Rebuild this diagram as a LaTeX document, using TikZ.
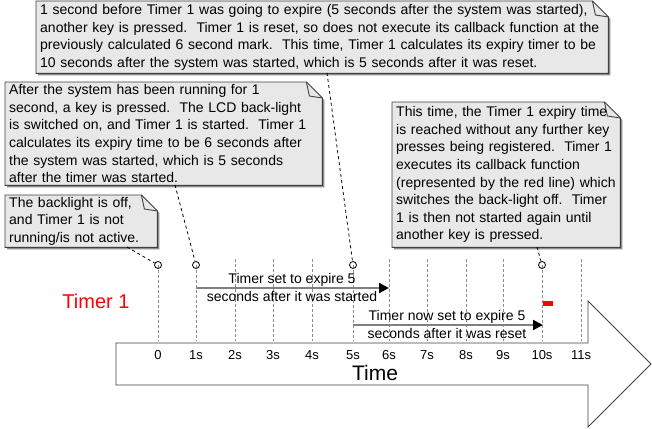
\documentclass[tikz,border=0pt]{standalone}
\usepackage{fontspec}
\setmainfont{Liberation Sans}
\usetikzlibrary{arrows.meta,backgrounds}

\definecolor{notefill}{HTML}{E8E8E8}
\definecolor{noteline}{HTML}{404040}
\definecolor{noteshadow}{HTML}{8C8C8C}
\definecolor{tickgray}{HTML}{8C8C8C}

\begin{document}
\begin{tikzpicture}[
  x=1pt, y=-1pt,
  font=\fontsize{14}{17.6}\selectfont,
  note/.style 2 args={
    anchor=north west,
    inner xsep=4pt,
    inner ysep=1pt,
    text width=#1,
    minimum height=#2,
    align=left
  },
  notebox/.style={
    fill=notefill,
    draw=noteline,
    line width=0.9pt,
    preaction={fill=noteshadow, transform canvas={shift={(2pt,-2pt)}}}
  },
  keymark/.style={circle, draw=black, minimum size=7pt, inner sep=0pt, line width=0.8pt},
  pointer/.style={draw=black, dashed, line width=0.8pt},
  tickline/.style={draw=tickgray, dash pattern=on 3pt off 2pt, line width=0.7pt},
  timerflow/.style={-{Triangle[length=10pt,width=10pt,black]}, draw=gray, line width=2pt},
  ticklabel/.style={font=\fontsize{13}{15}\selectfont},
  flowlabel/.style={align=center, font=\fontsize{14}{18}\selectfont}
]
\useasboundingbox (0,0) rectangle (652,428);

% the time axis
\draw[draw=noteline, fill=white, line width=0.9pt]
  (116,343) -- (588,343) -- (588,301) -- (651,364) -- (588,427) -- (588,385) -- (116,385) -- cycle;
\node[font=\fontsize{21}{24}\selectfont] (timeLabel) at (375,373) {Time};

\foreach \x/\lab/\top in {158/0/265,196/1s/265,235/2s/259,273/3s/259,312/4s/259,353/5s/265,
                          389/6s/259,427/7s/259,466/8s/259,503/9s/259,542/10s/265,581/11s/259} {
  \draw[tickline] (\x,\top) -- (\x,341);
  \node[ticklabel] (tick\lab) at (\x,355) {\lab};
}

\node[text=red, font=\fontsize{20}{24}\selectfont] (timerName) at (96,301) {Timer 1};

% key presses
\node[keymark] (c0) at (158,265) {};
\node[keymark] (c1) at (196,265) {};
\node[keymark] (c5) at (353,265) {};
\node[keymark] (c10) at (542,265) {};

% timer periods
\coordinate (setStart) at (196,288);
\coordinate (setEnd) at (389,288);
\coordinate (resetStart) at (353,325);
\coordinate (resetEnd) at (543,325);
\draw[timerflow] (setStart) -- (setEnd);
\draw[timerflow] (resetStart) -- (resetEnd);
\node[flowlabel] (setLabel) at (292,287) {Timer set to expire 5\\seconds after it was started};
\node[flowlabel] (resetLabel) at (447,324) {Timer now set to expire 5\\seconds after it was reset};

\node[fill=red, anchor=north west, minimum width=10pt, minimum height=5pt, inner sep=0pt] (callback) at (543,301) {};

% notes
\node[note={144pt}{52pt}] (backlightNote) at (5,195)
  {The backlight is off,\\and Timer 1 is not\\running/is not active.};
\node[note={309pt}{103pt}] (startNote) at (5,82)
  {After the system has been running for 1\\second, a key is pressed.\ \ The LCD back-light\\is switched on, and Timer 1 is started.\ \ Timer 1\\calculates its expiry time to be 6 seconds after\\the system was started, which is 5 seconds\\after the timer was started.};
\node[note={564pt}{72pt}] (resetNote) at (36,1)
  {1 second before Timer 1 was going to expire (5 seconds after the system was started),\\another key is pressed.\ \ Timer 1 is reset, so does not execute its callback function at the\\previously calculated 6 second mark.\ \ This time, Timer 1 calculates its expiry timer to be\\10 seconds after the system was started, which is 5 seconds after it was reset.};
\node[note={220pt}{145pt}] (expireNote) at (392,102)
  {This time, the Timer 1 expiry time\\is reached without any further key\\presses being registered.\ \ Timer 1\\executes its callback function\\(represented by the red line) which\\switches the back-light off.\ \ Timer\\1 is then not started again until\\another key is pressed.};

\begin{scope}[on background layer]
  \foreach \n in {backlightNote,startNote,resetNote,expireNote} {
    \draw[notebox] (\n.north west) -- ([xshift=-16pt]\n.north east) -- ([yshift=-16pt]\n.north east)
      -- (\n.south east) -- (\n.south west) -- cycle;
    \draw[draw=noteline, line width=0.9pt] ([xshift=-16pt]\n.north east)
      -- ([xshift=-13pt,yshift=-14pt]\n.north east) -- ([yshift=-16pt]\n.north east);
  }
\end{scope}

\coordinate (backlightTail) at (127,247);
\coordinate (startTail) at (175,185);
\coordinate (resetTail) at (327,73);
\coordinate (expireTail) at (537,247);
\draw[pointer] (backlightTail) -- (c0);
\draw[pointer] (startTail) -- (c1);
\draw[pointer] (resetTail) -- (c5);
\draw[pointer] (expireTail) -- (c10);

\end{tikzpicture}
\end{document}
